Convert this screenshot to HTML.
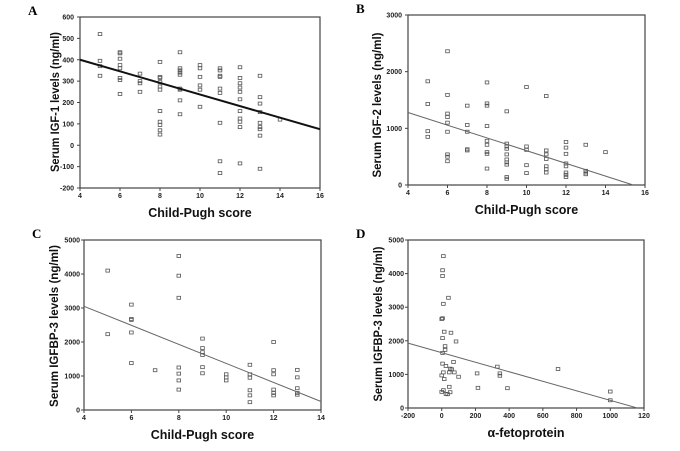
<!DOCTYPE html>
<html><head><meta charset="utf-8"><style>
body{margin:0;background:#fff}
svg{display:block;font-family:"Liberation Sans",Arial,sans-serif}
.tk{font-size:7px;font-weight:bold;fill:#222}
.ttl{font-size:12.5px;font-weight:bold;fill:#111}
.yttl{font-size:12px;font-weight:bold;fill:#111}
.pl{font-family:"Liberation Serif",serif;font-size:13px;font-weight:bold}
</style></head><body>
<svg id="fig" width="680" height="451" viewBox="0 0 680 451"></svg>
<script>
// Panel A data
const aX=[5,5,5,5,6,6,6,6,6,6,6,6,7,7,7,7,8,8,8,8,8,8,8,8,8,8,8,9,9,9,9,9,9,9,9,9,10,10,10,10,10,10,11,11,11,11,11,11,11,11,11,12,12,12,12,12,12,12,12,12,12,12,13,13,13,13,13,13,13,13,13,14];
const aY=[520,395,370,325,435,430,405,375,360,315,305,240,335,300,290,250,390,320,315,295,275,260,160,110,95,70,50,435,360,350,340,330,265,260,210,145,375,360,320,280,260,180,360,350,325,320,265,245,105,-75,-130,365,315,290,270,250,215,160,125,110,85,-85,325,225,195,155,105,85,75,45,-110,120];
const aLine=[[4,400],[16,75]];
const aXTicks=[4,6,8,10,12,14,16];
const aYTicks=[-200,-100,0,100,200,300,400,500,600];
// Panel B data
const bX=[5,5,5,5,6,6,6,6,6,6,6,6,6,7,7,7,7,7,8,8,8,8,8,8,8,8,8,9,9,9,9,9,9,9,9,9,9,10,10,10,10,10,11,11,11,11,11,11,11,12,12,12,12,12,12,12,12,13,13,13,13,14];
const bY=[1830,1430,950,850,2360,1590,1260,1200,1100,940,540,500,420,1400,1060,940,630,610,1810,1440,1400,1040,780,710,580,550,290,1300,730,680,640,540,450,400,360,140,110,1730,680,620,350,210,1570,610,540,460,330,280,220,760,660,550,380,330,220,180,140,710,250,220,190,580];
const bLine=[[4,1280],[15.4,0]];
const bXTicks=[4,6,8,10,12,14,16];
const bYTicks=[0,1000,2000,3000];
// Panel C data
const cX=[5,5,6,6,6,6,6,7,8,8,8,8,8,8,8,9,9,9,9,9,9,10,10,10,11,11,11,11,11,11,12,12,12,12,12,12,13,13,13,13,13];
const cY=[4100,2230,3100,2680,2650,2280,1380,1170,4530,3950,3300,1250,1070,870,600,2100,1820,1700,1620,1260,1080,1050,960,870,1330,1050,950,580,430,230,2000,1170,1050,600,500,430,1180,960,640,500,450];
const cLine=[[4,3050],[14,250]];
const cXTicks=[4,6,8,10,12,14];
const cYTicks=[0,1000,2000,3000,4000,5000];
// Panel D data
const dX=[10,5,5,40,10,0,5,15,55,5,20,20,85,5,70,5,25,50,60,10,45,75,100,0,15,10,0,50,25,35,45,210,215,330,345,345,390,690,1000,1000];
const dY=[4520,4100,3930,3280,3100,2650,2670,2270,2240,2080,1840,1730,1980,1640,1370,1320,1250,1170,1150,1060,1060,1060,930,970,860,530,480,470,420,410,630,1030,600,1230,1030,960,590,1160,490,230];
const dLine=[[-200,1930],[1160,0]];
const dXTicks=[-200,0,200,400,600,800,1000,1200];
const dYTicks=[0,1000,2000,3000,4000,5000];

const NS="http://www.w3.org/2000/svg";
const fig=document.getElementById('fig');
function mk(tag,attrs,parent,txt){const e=document.createElementNS(NS,tag);for(const k in attrs)e.setAttribute(k,attrs[k]);if(txt!==undefined)e.textContent=txt;parent.appendChild(e);return e;}

function panel(id,letter,box,xr,yr,xs,ys,line,xt,yt,xtitle,ytitle,lw,tickLabels,yOff,yLen,yC,tkOff){
  const g=mk('g',{},fig);
  
  
  const [L,T,R,B]=box;
  const sx=v=>L+(v-xr[0])/(xr[1]-xr[0])*(R-L);
  const sy=v=>B-(v-yr[0])/(yr[1]-yr[0])*(B-T);
  const lab=mk('text',{x:L-52,y:T-2,class:'pl'},g,letter);
  
  
  const fr=mk('rect',{x:L,y:T,width:R-L,height:B-T,fill:'none',stroke:'#444','stroke-width':1.2},g);
  
  
  xt.forEach((v,i)=>{const x=sx(v);mk('line',{x1:x,x2:x,y1:B,y2:B+3,stroke:'#444'},g);
    const t=mk('text',{x:x,y:B+10,class:'tk','text-anchor':'middle'},g,tickLabels?tickLabels[i]:v);
    
    });
  yt.forEach(v=>{const y=sy(v);mk('line',{x1:L-3,x2:L,y1:y,y2:y,stroke:'#444'},g);
    const t=mk('text',{x:L-tkOff,y:y+2.5,class:'tk','text-anchor':'end'},g,v);
    
    });
  xs.forEach((v,i)=>{const p=mk('rect',{x:sx(v)-1.8,y:sy(ys[i])-1.5,width:3.6,height:3,fill:'none',stroke:'#555','stroke-width':0.8},g);
    
    });
  const ln=mk('line',{x1:sx(line[0][0]),y1:sy(line[0][1]),x2:sx(line[1][0]),y2:sy(line[1][1]),stroke:lw>1.5?'#111':'#666','stroke-width':lw},g);
  
  
  const xtl=mk('text',{x:(L+R)/2,y:B+29,class:'ttl','text-anchor':'middle'},g,xtitle);
  
  
  const cy=yC, cx=L-yOff;
  const ytl=mk('text',{x:cx,y:cy+4,class:'yttl','text-anchor':'middle',textLength:yLen,lengthAdjust:'spacingAndGlyphs',transform:`rotate(-90 ${cx} ${cy})`},g,ytitle);
  
  
}
panel('a','A',[80,17,320,188],[4,16],[-200,600],aX,aY,aLine,aXTicks,aYTicks,'Child-Pugh score','Serum IGF-1  levels (ng/ml)',2,null,25,140,102,6);
panel('b','B',[408,15,645,185],[4,16],[0,3000],bX,bY,bLine,bXTicks,bYTicks,'Child-Pugh score','Serum IGF-2 levels (ng/ml)',1,null,31,145,105,6);
panel('c','C',[84,240,321,410],[4,14],[0,5000],cX,cY,cLine,cXTicks,cYTicks,'Child-Pugh score','Serum IGFBP-3 levels (ng/ml)',1,null,30,162,326,4);
panel('d','D',[408,240,644,408],[-200,1200],[0,5000],dX,dY,dLine,dXTicks,dYTicks,'α-fetoprotein','Serum IGFBP-3 levels (ng/ml)',1,['-200','0','200','400','600','800','1000','120'],30,155,324,4);
</script>
</body></html>
